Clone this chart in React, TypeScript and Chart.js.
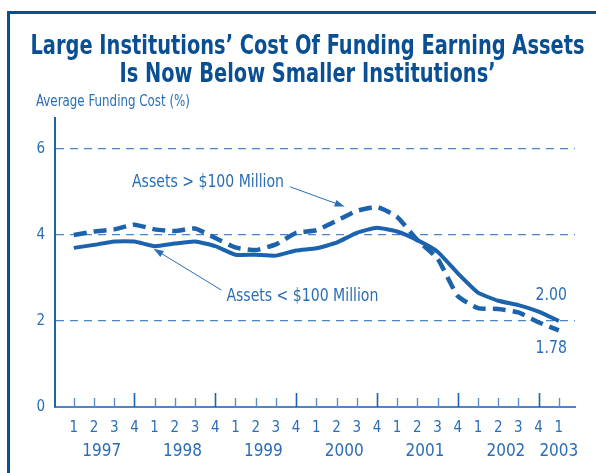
import React, { useEffect, useRef } from "react";
import { Chart, registerables } from "chart.js";

Chart.register(...registerables);

// ---- data ----
const quarterLabels = ["1","2","3","4","1","2","3","4","1","2","3","4","1","2","3","4","1","2","3","4","1","2","3","4","1"];
const yearLabels = ["1997","1998","1999","2000","2001","2002","2003"];
const smallInstitutions = [3.70,3.77,3.85,3.85,3.74,3.80,3.85,3.74,3.54,3.54,3.52,3.64,3.69,3.82,4.05,4.17,4.08,3.88,3.61,3.11,2.66,2.47,2.37,2.22,2.00];
const largeInstitutions = [4.00,4.08,4.13,4.24,4.13,4.09,4.15,3.93,3.71,3.65,3.78,4.05,4.11,4.33,4.56,4.65,4.42,3.88,3.45,2.58,2.30,2.28,2.20,1.97,1.78];
const yTickValues = [0, 2, 4, 6];
const seriesNames = ["Assets < $100 Million", "Assets > $100 Million"];
const endValueLabels = ["2.00", "1.78"];

const TITLE_LINES = ["Large Institutions\u2019 Cost Of Funding Earning Assets", "Is Now Below Smaller Institutions\u2019"];
const Y_TITLE = "Average Funding Cost (%)";

const FONT = '"Liberation Sans Narrow", "DejaVu Sans Condensed", "Arial Narrow", sans-serif';
const DARK = "#0b4f93";
const LINE = "#1c63ad";
const TEXT = "#2b6eb6";
const GRID = "#4a86c8";

// annotation anchors in data units
const annotations = [
  { text: seriesNames[1], tx: 2.88, ty: 5.21, ax: 10.7, ay: 5.12, bx: 13.4, by: 4.66 },
  { text: seriesNames[0], tx: 7.55, ty: 2.57, ax: 7.3, ay: 2.72, bx: 3.95, by: 3.68 },
];

function squeezedText(ctx: any, text: string, x: number, y: number, align: "left" | "right" | "center", sx: number) {
  ctx.save();
  ctx.translate(x, y);
  ctx.scale(sx, 1);
  ctx.textAlign = align;
  ctx.fillText(text, 0, 0);
  ctx.restore();
}

const overlayPlugin = {
  id: "overlay",
  afterDraw(chart: any) {
    const { ctx, scales } = chart;
    const x = scales.x;
    const y = scales.y;
    const area = chart.chartArea;
    ctx.save();
    // titles
    ctx.fillStyle = DARK;
    ctx.font = `bold 27px ${FONT}`;
    ctx.textBaseline = "alphabetic";
    const w1 = ctx.measureText(TITLE_LINES[0]).width;
    const tsx = 554 / w1;
    squeezedText(ctx, TITLE_LINES[0], 307.5, 53.5, "center", tsx);
    squeezedText(ctx, TITLE_LINES[1], 307.5, 82, "center", tsx);
    ctx.fillStyle = TEXT;
    ctx.font = `15px ${FONT}`;
    const wy = ctx.measureText(Y_TITLE).width;
    squeezedText(ctx, Y_TITLE, 36, 105.5, "left", 154 / wy);

    // upward quarter ticks
    quarterLabels.forEach((q, i) => {
      const px = Math.round(x.getPixelForValue(i)) + 0.5;
      const tall = q === "4";
      ctx.strokeStyle = tall ? LINE : "#5b8fcc";
      ctx.lineWidth = tall ? 1.6 : 1.4;
      ctx.beginPath();
      ctx.moveTo(px, area.bottom);
      ctx.lineTo(px, area.bottom - (tall ? 14 : 9));
      ctx.stroke();
    });
    // annotations
    ctx.font = `17px ${FONT}`;
    ctx.fillStyle = TEXT;
    ctx.textBaseline = "middle";
    const wa = ctx.measureText(annotations[0].text).width;
    const asx = 152 / wa;
    annotations.forEach((a) => {
      squeezedText(ctx, a.text, x.getPixelForValue(a.tx), y.getPixelForValue(a.ty), "left", asx);
      const x1 = x.getPixelForValue(a.ax), y1 = y.getPixelForValue(a.ay);
      const x2 = x.getPixelForValue(a.bx), y2 = y.getPixelForValue(a.by);
      const ang = Math.atan2(y2 - y1, x2 - x1);
      ctx.strokeStyle = TEXT;
      ctx.lineWidth = 1;
      ctx.beginPath();
      ctx.moveTo(x1, y1);
      ctx.lineTo(x2 - 6 * Math.cos(ang), y2 - 6 * Math.sin(ang));
      ctx.stroke();
      const L = 10, W = 3.5;
      ctx.beginPath();
      ctx.moveTo(x2, y2);
      ctx.lineTo(x2 - L * Math.cos(ang) + W * Math.sin(ang), y2 - L * Math.sin(ang) - W * Math.cos(ang));
      ctx.lineTo(x2 - L * Math.cos(ang) - W * Math.sin(ang), y2 - L * Math.sin(ang) + W * Math.cos(ang));
      ctx.closePath();
      ctx.fill();
    });
    // end value labels
    squeezedText(ctx, endValueLabels[0], x.getPixelForValue(24.4), y.getPixelForValue(2.6), "right", asx);
    squeezedText(ctx, endValueLabels[1], x.getPixelForValue(24.4), y.getPixelForValue(1.35), "right", asx);
    ctx.restore();
  },
};

export default function App() {
  const ref = useRef<HTMLCanvasElement | null>(null);
  useEffect(() => {
    if (!ref.current) return;
    const idx = quarterLabels.map((_, i) => i);
    // year label positions: centre of each year's quarters
    const yearPos: number[] = [];
    let start = 0;
    yearLabels.forEach(() => {
      let end = start;
      while (end + 1 < quarterLabels.length && quarterLabels[end + 1] !== "1") end++;
      yearPos.push((start + end) / 2 - (end > start ? 0.12 : 0));
      start = end + 1;
    });
    const chart = new Chart(ref.current, {
      type: "line",
      data: {
        datasets: [
          {
            label: seriesNames[0],
            data: idx.map((i) => ({ x: i, y: smallInstitutions[i] })),
            borderColor: LINE,
            borderWidth: 4,
            pointRadius: 0,
            tension: 0.15,
            fill: false,
          },
          {
            label: seriesNames[1],
            data: idx.map((i) => ({ x: i, y: largeInstitutions[i] })),
            borderColor: LINE,
            borderWidth: 4.5,
            borderDash: [13, 7],
            pointRadius: 0,
            tension: 0.15,
            fill: false,
          },
        ],
      },
      options: {
        responsive: false,
        animation: false,
        layout: { padding: { left: 0, right: 21, top: 118, bottom: 8 } },
        plugins: { legend: { display: false }, tooltip: { enabled: false }, title: { display: false } },
        scales: {
          x: {
            type: "linear",
            position: "bottom",
            weight: 1,
            min: -0.93,
            max: 24.8,
            afterBuildTicks: (s: any) => { s.ticks = idx.map((i) => ({ value: i })); },
            afterFit: (s: any) => { s.height = 28; },
            ticks: {
              autoSkip: false,
              maxRotation: 0,
              padding: 12,
              color: TEXT,
              font: { family: FONT, size: 15 },
              callback: (_v: any, i: number) => quarterLabels[i],
            },
            grid: { display: false, drawTicks: false },
            border: { display: true, color: GRID, width: 2 },
          },
          x2: {
            type: "linear",
            position: "bottom",
            weight: 2,
            min: -0.93,
            max: 24.8,
            afterBuildTicks: (s: any) => { s.ticks = yearPos.map((p) => ({ value: p })); },
            afterFit: (s: any) => { s.height = 30; },
            ticks: {
              autoSkip: false,
              maxRotation: 0,
              padding: 6,
              color: TEXT,
              font: { family: FONT, size: 17 },
              callback: (_v: any, i: number) => yearLabels[i],
            },
            grid: { display: false, drawTicks: false },
            border: { display: false },
          },
          y: {
            min: 0,
            max: 6.72,
            afterBuildTicks: (s: any) => { s.ticks = yTickValues.map((v) => ({ value: v })); },
            afterFit: (s: any) => { s.width = 55; },
            ticks: {
              padding: 10,
              color: TEXT,
              font: { family: FONT, size: 15 },
              callback: (v: any) => String(v),
            },
            grid: {
              drawTicks: false,
              color: (c: any) => (c.tick && c.tick.value === 0 ? "rgba(0,0,0,0)" : GRID),
              lineWidth: 1.3,
            },
            border: { display: true, color: LINE, width: 2, dash: [8, 6] },
          },
        },
      },
      plugins: [overlayPlugin],
    } as any);
    return () => chart.destroy();
  }, []);

  return (
    <div style={{ position: "fixed", left: 0, top: 0, width: 596, height: 473, background: "#fff", overflow: "hidden" }}>
      <div style={{ position: "absolute", left: 7, top: 11, width: 620, height: 500, borderLeft: `3px solid ${DARK}`, borderTop: `3px solid ${DARK}` }} />
      <canvas ref={ref} width={596} height={473} style={{ position: "absolute", left: 0, top: 0 }} />
    </div>
  );
}
